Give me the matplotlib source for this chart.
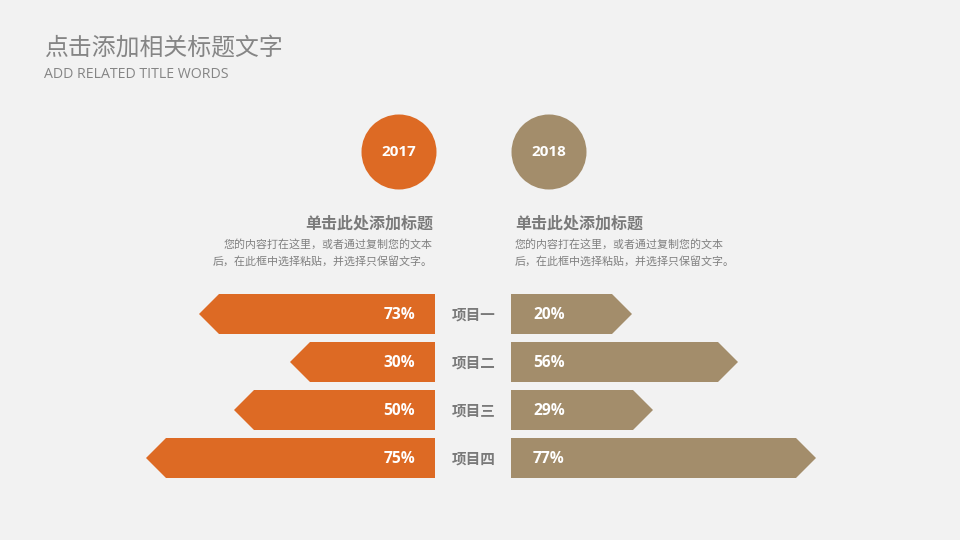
import matplotlib.pyplot as plt
from matplotlib.patches import Polygon, Circle

plt.rcParams['font.family'] = ['Noto Sans CJK SC', 'DejaVu Sans']

# data
items = ['项目一', '项目二', '项目三', '项目四']
labels_2017 = ['73%', '30%', '50%', '75%']
labels_2018 = ['20%', '56%', '29%', '77%']
# drawn arrow lengths (slide px), they don't follow the labels exactly
len_2017 = [236, 145, 201, 289]
len_2018 = [121, 227, 142, 305]
years = ['2017', '2018']

orange = '#DD6A24'
tan = '#A38D6B'
bg = '#F2F2F2'
tip = 20
bar_h = 40 / 48

fig = plt.figure(figsize=(9.6, 5.4), dpi=100, facecolor=bg)


def arrow_bars(ax, lengths, color):
    for i, L in enumerate(lengths):
        pts = [(0, i - bar_h / 2), (L - tip, i - bar_h / 2), (L, i),
               (L - tip, i + bar_h / 2), (0, i + bar_h / 2)]
        ax.add_patch(Polygon(pts, closed=True, facecolor=color, edgecolor='none'))
    ax.set_ylim(len(lengths) - 0.5, -0.5)
    ax.axis('off')


# left bars: axes right edge at x=435px, 315px wide
ax_l = fig.add_axes([120 / 960, 1 - 482 / 540, 315 / 960, 192 / 540])
arrow_bars(ax_l, len_2017, orange)
ax_l.set_xlim(315, 0)
for i, t in enumerate(labels_2017):
    ax_l.text(20, i + 0.02, t, ha='right', va='center', color='white',
              fontsize=11.2, fontweight='bold', family=['Open Sans', 'DejaVu Sans'])

# right bars
ax_r = fig.add_axes([511 / 960, 1 - 482 / 540, 315 / 960, 192 / 540])
arrow_bars(ax_r, len_2018, tan)
ax_r.set_xlim(0, 315)
for i, t in enumerate(labels_2018):
    ax_r.text(22, i + 0.02, t, ha='left', va='center', color='white',
              fontsize=11.2, fontweight='bold', family=['Open Sans', 'DejaVu Sans'])

# overlay in slide pixels for titles, circles and text
ov = fig.add_axes([0, 0, 1, 1], facecolor='none')
ov.set_xlim(0, 960)
ov.set_ylim(540, 0)
ov.axis('off')

ov.text(44, 48, '点击添加相关标题文字', fontsize=17.2, color='#858585', va='center', ha='left')
ov.text(44, 74, 'ADD RELATED TITLE WORDS', fontsize=10.2, color='#858585', va='center',
        ha='left', family=['Open Sans', 'DejaVu Sans'])

for cx, yr, c in [(399, years[0], orange), (549, years[1], tan)]:
    ov.add_patch(Circle((cx, 152), 37.5, facecolor=c, edgecolor='none'))
    ov.text(cx, 152, yr, ha='center', va='center', color='white', fontsize=11,
            fontweight='bold', family=['Open Sans', 'DejaVu Sans'])

ov.text(433, 224, '单击此处添加标题', ha='right', va='center', fontsize=11.5,
        fontweight='bold', color='#7A7A7A')
ov.text(515, 224, '单击此处添加标题', ha='left', va='center', fontsize=11.5,
        fontweight='bold', color='#7A7A7A')
body1 = '您的内容打在这里，或者通过复制您的文本'
body2 = '后，在此框中选择粘贴，并选择只保留文字。'
ov.text(433, 244, body1, ha='right', va='center', fontsize=7.9, color='#808080')
ov.text(433, 261, body2, ha='right', va='center', fontsize=7.9, color='#808080')
ov.text(515, 244, body1, ha='left', va='center', fontsize=7.9, color='#808080')
ov.text(515, 261, body2, ha='left', va='center', fontsize=7.9, color='#808080')

for i, name in enumerate(items):
    ov.text(474, 315 + 48 * i, name, ha='center', va='center', fontsize=10.5,
            fontweight='bold', color='#7A7A7A')

fig.savefig('out.png', dpi=100, facecolor=bg)
